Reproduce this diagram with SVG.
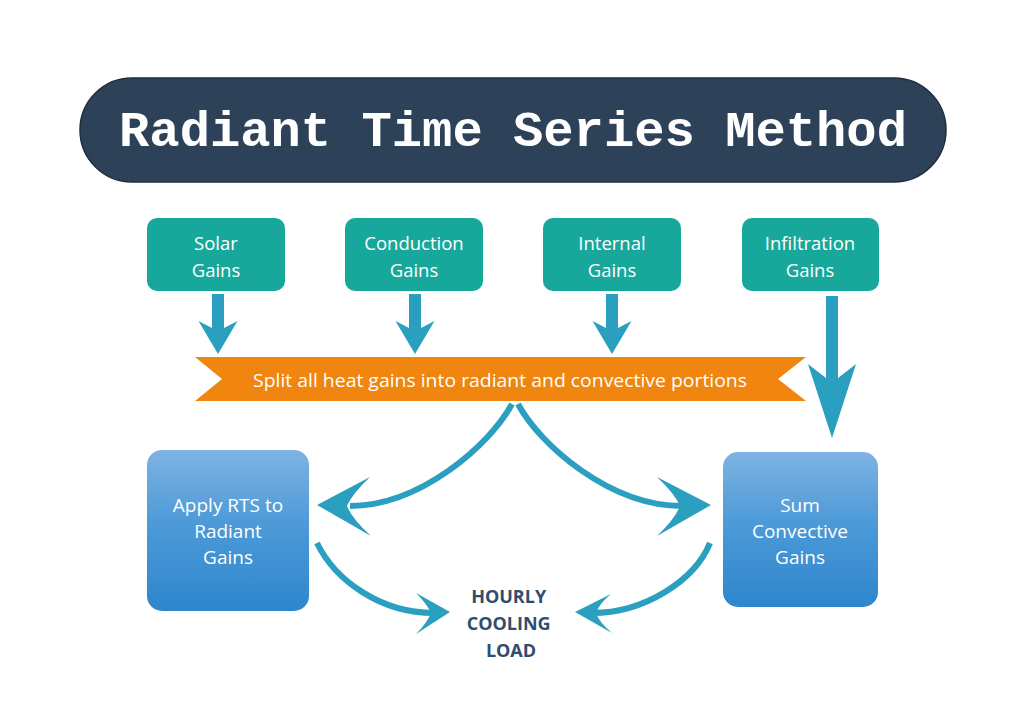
<svg xmlns="http://www.w3.org/2000/svg" width="1024" height="724" viewBox="0 0 1024 724">
  <style>
    .src rect { fill: #17a89b; }
    .src text, .proc text { fill: #ffffff; font-family: "Open Sans", "Noto Sans", sans-serif; font-size: 18.5px; text-anchor: middle; }
    .proc text { font-size: 19px; }
    .proc rect { fill: url(#blueGrad); }
    .blk { fill: #2a9fbf; }
    .curve { fill: none; stroke: #2a9fbf; stroke-width: 6; stroke-linecap: butt; }
    .head { fill: #2a9fbf; }
  </style>
  <defs>
    <linearGradient id="blueGrad" x1="0" y1="0" x2="0" y2="1">
      <stop offset="0" stop-color="#7fb3e3"/>
      <stop offset="0.45" stop-color="#4d9ad8"/>
      <stop offset="1" stop-color="#2e86cc"/>
    </linearGradient>
  </defs>
  <rect width="1024" height="724" fill="#ffffff"/>

  <g id="title">
    <rect x="80" y="78" width="866" height="104" rx="52" ry="52" fill="#2d4258" stroke="#1e2e3f" stroke-width="1.5"/>
    <text x="513" y="146" fill="#ffffff" font-family="'Liberation Mono', 'Courier New', monospace" font-weight="bold" font-size="50.5" text-anchor="middle">Radiant Time Series Method</text>
  </g>

  <g id="solar" class="src">
    <rect x="147" y="218" width="138" height="73" rx="10"/>
    <text x="216" y="250">Solar</text>
    <text x="216" y="277">Gains</text>
  </g>
  <g id="conduction" class="src">
    <rect x="345" y="218" width="138" height="73" rx="10"/>
    <text x="414" y="250">Conduction</text>
    <text x="414" y="277">Gains</text>
  </g>
  <g id="internal" class="src">
    <rect x="543" y="218" width="138" height="73" rx="10"/>
    <text x="612" y="250">Internal</text>
    <text x="612" y="277">Gains</text>
  </g>
  <g id="infiltration" class="src">
    <rect x="742" y="218" width="137" height="73" rx="10"/>
    <text x="810" y="250">Infiltration</text>
    <text x="810" y="277">Gains</text>
  </g>

  <g id="split">
    <polygon points="195,357 806,357 778,379 806,401 195,401 222,379" fill="#f0860f"/>
    <text x="500" y="387" fill="#ffffff" font-family="'Open Sans', 'Noto Sans', sans-serif" font-size="18" text-anchor="middle" textLength="494" lengthAdjust="spacingAndGlyphs">Split all heat gains into radiant and convective portions</text>
  </g>

  <g id="apply-rts" class="proc">
    <rect x="147" y="450" width="162" height="161" rx="15"/>
    <text x="228" y="512">Apply RTS to</text>
    <text x="228" y="538">Radiant</text>
    <text x="228" y="564">Gains</text>
  </g>
  <g id="sum-convective" class="proc">
    <rect x="723" y="452" width="155" height="155" rx="15"/>
    <text x="800" y="512">Sum</text>
    <text x="800" y="538">Convective</text>
    <text x="800" y="564">Gains</text>
  </g>

  <g id="hourly-load">
    <text font-family="'Open Sans', 'Noto Sans', sans-serif" font-weight="bold" font-size="18" fill="#2f4d6e" text-anchor="middle">
      <tspan x="511" y="603">HOURLY</tspan>
      <tspan x="511" y="630">COOLING</tspan>
      <tspan x="511" y="657">LOAD</tspan>
    </text>
  </g>

  <g id="connectors">
    <!-- block down arrows -->
    <path class="blk" d="M212,294 H224 V328 L237.5,321 L218,354 L198.5,321 L212,328 Z"/>
    <path class="blk" d="M409,294 H421 V328 L434.5,321 L415,354 L395.5,321 L409,328 Z"/>
    <path class="blk" d="M606,294 H618 V328 L631.5,321 L612,354 L592.5,321 L606,328 Z"/>
    <path class="blk" d="M826,296 H838 V378 L856,364 L832,438 L808,364 L826,378 Z"/>

    <!-- split to apply RTS -->
    <path class="curve" d="M512,404 C490,445 420,506 350,506"/>
    <path class="head" d="M317,505 L370,477 Q352,494 347,506 Q352,519 371,536 Z"/>
    <!-- split to sum convective -->
    <path class="curve" d="M518,404 C540,445 610,506 682,506"/>
    <path class="head" d="M711,505 L657,477 Q675,494 680,506 Q675,519 657,536 Z"/>
    <!-- apply RTS to hourly -->
    <path class="curve" d="M317,543 C335,580 380,613 434,613"/>
    <path class="head" d="M450,612 L416,593 Q427,604 431,613 Q427,623 416,634 Z"/>
    <!-- sum to hourly -->
    <path class="curve" d="M710,543 C695,580 645,613 592,613"/>
    <path class="head" d="M575,612 L611,594 Q599,604 596,613 Q599,622 612,633 Z"/>
  </g>
</svg>
